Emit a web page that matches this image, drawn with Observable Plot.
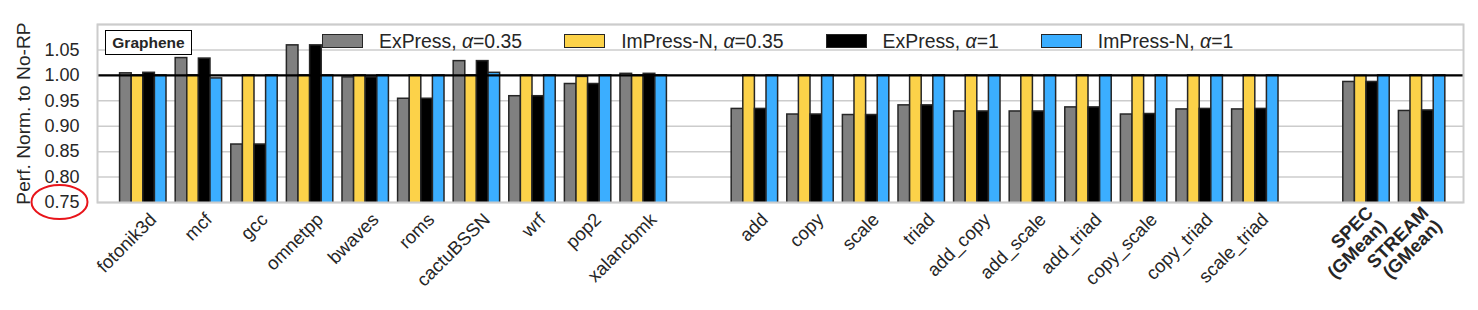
<!DOCTYPE html>
<html><head><meta charset="utf-8">
<script src="https://cdn.jsdelivr.net/npm/d3@7"></script>
<script src="https://cdn.jsdelivr.net/npm/@observablehq/plot@0.6"></script>
<style>
body{margin:0;background:#fff;font-family:"Liberation Sans",Arial,sans-serif;color:#262626;}
#wrap{position:relative;width:1478px;height:310px;overflow:hidden;}
#legend{position:absolute;left:322px;top:30px;height:22px;display:flex;align-items:center;font-size:19.4px;white-space:nowrap;}
#legend .item{display:flex;align-items:center;margin-right:42px;}
#legend .sw{width:39px;height:12px;border:1.5px solid #262626;margin-right:16px;}
#tag{position:absolute;left:105px;top:30px;width:85px;height:23px;border:1.6px solid #000;background:#fff;font-weight:bold;font-size:15.5px;display:flex;align-items:center;justify-content:center;color:#262626;}
#ring{position:absolute;left:0;top:0;pointer-events:none;}
</style></head><body>
<div id="wrap"></div>
<script>
const specCats = ["fotonik3d","mcf","gcc","omnetpp","bwaves","roms","cactuBSSN","wrf","pop2","xalancbmk"];
const streamCats = ["add","copy","scale","triad","add_copy","add_scale","add_triad","copy_scale","copy_triad","scale_triad"];
const gmeanCats = ["SPEC\n(GMean)","STREAM\n(GMean)"];
const categories = [...specCats, ...streamCats, ...gmeanCats];
const seriesNames = ["ExPress, α=0.35","ImPress-N, α=0.35","ExPress, α=1","ImPress-N, α=1"];
const seriesColors = ["#808080","#FCD249","#000000","#3BAEFF"];
const express035 = [1.004,1.034,0.864,1.059,0.996,0.954,1.028,0.959,0.983,1.003, 0.934,0.923,0.922,0.941,0.929,0.929,0.937,0.923,0.933,0.933, 0.987,0.930];
const impress035 = [1.000,1.000,1.000,1.000,1.000,1.000,1.000,1.000,0.997,1.000, 1.000,1.000,1.000,1.000,1.000,1.000,1.000,1.000,1.000,1.000, 0.999,1.000];
const express1   = [1.005,1.033,0.864,1.059,0.996,0.954,1.028,0.959,0.983,1.003, 0.934,0.923,0.922,0.941,0.929,0.929,0.937,0.924,0.934,0.934, 0.987,0.931];
const impress1   = [1.000,0.994,1.000,1.000,1.000,1.000,1.005,1.000,1.000,1.000, 1.000,1.000,1.000,1.000,1.000,1.000,1.000,1.000,1.000,1.000, 1.000,1.000];
const yTicks = [0.75,0.80,0.85,0.90,0.95,1.00,1.05];
const gridTicks = [0.75,0.80,0.85,0.90,0.95,1.00,1.05,1.10];

const seriesValues = [express035, impress035, express1, impress1];
const slots = [...specCats, "gap1", ...streamCats, "gap2", ...gmeanCats];
const rows = [];
categories.forEach((c, i) => seriesNames.forEach((s, j) => rows.push({cat: c, series: s, idx: j, value: seriesValues[j][i]})));

const W = 1478, H = 310, mL = 97, mR = 15, mT = 24, mB = 108;
const pIn = 0.165, pOut = 0.3665;
const step = (W - mL - mR) / (slots.length - pIn + 2 * pOut);
const barW = step * (1 - pIn) / 4;

const bars = seriesNames.map((s, j) => Plot.barY(rows.filter(r => r.idx === j), {
  x: "cat", y: "value", fill: seriesColors[j], stroke: "#262626", strokeWidth: 1.5,
  insetLeft: j * barW, insetRight: (3 - j) * barW, clip: true
}));

const chart = Plot.plot({
  width: W, height: H, marginLeft: mL, marginRight: mR, marginTop: mT, marginBottom: mB,
  style: {fontFamily: "Liberation Sans, Arial, sans-serif", fontSize: "18px", color: "#262626", background: "#fff"},
  x: {domain: slots, paddingInner: pIn, paddingOuter: pOut, align: 0.554, round: false, axis: null},
  y: {domain: [0.75, 1.10], axis: null},
  marks: [
    Plot.gridY(gridTicks, {stroke: "#cccccc", strokeOpacity: 1, strokeWidth: 1.5}),
    ...bars,
    Plot.ruleY([1], {stroke: "#000", strokeWidth: 2.2}),
    Plot.frame({stroke: "#cccccc", strokeWidth: 2}),
    Plot.axisY({ticks: yTicks, tickFormat: d3.format(".2f"), tickSize: 0, tickPadding: 18, fontSize: 18, label: null}),
    Plot.axisY({ticks: [], tickSize: 0, fontSize: 19.2, label: "Perf. Norm. to No-RP", labelAnchor: "center", labelArrow: "none", labelOffset: 81, dy: 3}),
    Plot.axisX({ticks: [...specCats, ...streamCats], tickSize: 0, tickPadding: 14, tickRotate: -45, fontSize: 18.5, dx: 10, label: null}),
    Plot.axisX({ticks: gmeanCats, tickSize: 0, tickPadding: 14, tickRotate: -45, fontSize: 18.5, fontWeight: "bold", dx: 10, label: null})
  ]
});
const wrap = document.getElementById("wrap");
wrap.appendChild(chart);

const legend = document.createElement("div");
legend.id = "legend";
seriesNames.forEach((s, j) => {
  const item = document.createElement("div");
  item.className = "item";
  const sw = document.createElement("div");
  sw.className = "sw"; sw.style.background = seriesColors[j];
  const lab = document.createElement("span");
  const [name, val] = s.split("α");
  lab.innerHTML = name + "<i>α</i>" + val;
  item.appendChild(sw); item.appendChild(lab);
  legend.appendChild(item);
});
wrap.appendChild(legend);

const tag = document.createElement("div");
tag.id = "tag"; tag.textContent = "Graphene";
wrap.appendChild(tag);

const ring = d3.create("svg").attr("id", "ring").attr("width", W).attr("height", H);
ring.append("ellipse").attr("cx", 59.5).attr("cy", 202).attr("rx", 28).attr("ry", 17)
  .attr("fill", "none").attr("stroke", "#e8141a").attr("stroke-width", 2);
wrap.appendChild(ring.node());
</script>
</body></html>
